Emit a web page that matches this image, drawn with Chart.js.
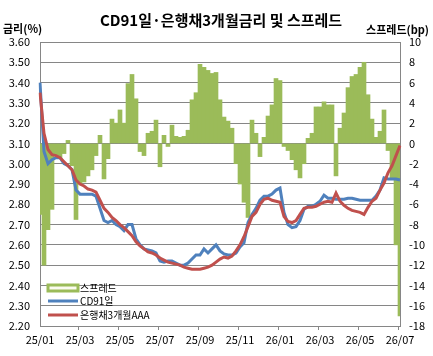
<!DOCTYPE html>
<html>
<head>
<meta charset="utf-8">
<script src="https://cdn.jsdelivr.net/npm/chart.js@4"></script>
<style>
  body { margin: 0; background: #fff; }
</style>
</head>
<body>
<canvas id="myChart" width="433" height="356"></canvas>
<script>
// x축 라벨 (2개월 간격)
const tickLabels = ['25/01', '25/03', '25/05', '25/07', '25/09', '25/11', '26/01', '26/03', '26/05', '26/07'];

// CD91일 (%)
const cd91 = [
  3.40, 3.06, 3.00, 3.02, 3.03, 3.03, 3.00, 2.99, 2.97, 2.87,
  2.85, 2.85, 2.85, 2.85, 2.84, 2.78, 2.72, 2.71, 2.72, 2.70,
  2.69, 2.67, 2.70, 2.70, 2.63, 2.60, 2.58, 2.575, 2.57, 2.56,
  2.52, 2.515, 2.52, 2.52, 2.51, 2.50, 2.50, 2.51, 2.53, 2.55,
  2.55, 2.58, 2.56, 2.58, 2.60, 2.57, 2.555, 2.55, 2.55, 2.56,
  2.59, 2.61, 2.71, 2.75, 2.78, 2.82, 2.84, 2.84, 2.85, 2.87,
  2.88, 2.76, 2.70, 2.685, 2.69, 2.72, 2.775, 2.79, 2.79, 2.80,
  2.815, 2.845, 2.83, 2.83, 2.825, 2.825, 2.825, 2.83, 2.83, 2.825,
  2.82, 2.82, 2.82, 2.82, 2.84, 2.87, 2.93, 2.925, 2.925, 2.925,
  2.92
];

// 은행채3개월AAA (%)
const bank3m = [
  3.35, 3.15, 3.07, 3.045, 3.04, 3.03, 3.01, 2.99, 2.97, 2.92,
  2.90, 2.89, 2.875, 2.87, 2.86, 2.82, 2.78, 2.76, 2.735, 2.72,
  2.70, 2.685, 2.665, 2.645, 2.615, 2.595, 2.58, 2.565, 2.56, 2.55,
  2.535, 2.525, 2.515, 2.51, 2.505, 2.50, 2.49, 2.485, 2.48, 2.48,
  2.48, 2.485, 2.49, 2.50, 2.515, 2.53, 2.54, 2.535, 2.545, 2.57,
  2.60, 2.64, 2.69, 2.74, 2.76, 2.80, 2.825, 2.83, 2.82, 2.815,
  2.81, 2.74, 2.715, 2.71, 2.72, 2.75, 2.78, 2.785, 2.785, 2.79,
  2.80, 2.81, 2.815, 2.81, 2.855, 2.815, 2.795, 2.78, 2.77, 2.765,
  2.76, 2.75, 2.785, 2.815, 2.83, 2.87, 2.905, 2.955, 2.99, 3.04,
  3.09
];

// 스프레드 (bp)
const spread = [
  -7, -12, -8.5, -6.5, -1.2, -1.5, -1.0, 0.3, -2.2, -7.5,
  -4.0, -3.8, -3.2, -2.6, -1.2, 0.8, -3.5, -1.5, 2.4, 2.0,
  3.3, 2.0, 5.9, 6.8, 4.4, -0.8, -1.2, 1.0, 1.2, 2.3,
  -2.3, 0.8, -0.3, 1.8, 0.7, 0.6, 0.7, 1.3, 4.3, 5.0,
  7.8, 7.5, 7.2, 6.9, 7.0, 4.3, 2.6, 2.2, 1.5, -2.0,
  -4.0, -5.8, -7.3, 2.3, 1.0, -1.3, 0.6, 2.7, 3.8, 6.4,
  6.2, -0.3, -0.7, -1.6, -2.6, -3.4, -2.0, 0.5, 1.0, 3.6,
  3.6, 4.1, 3.8, 3.8, -3.2, 1.5, 3.0, 5.5, 6.6, 6.8,
  7.5, 8.0, 4.8, 2.4, 0.6, 1.2, 3.3, -0.7, -3.5, -10,
  -17
];

const green = '#9BBB59';
const blue = '#4F81BD';
const red = '#C0504D';
const gridColor = '#868686';

// 라벨: 10칸마다 x축 라벨
const labels = cd91.map((v, i) => (i % 10 === 0 ? tickLabels[i / 10] : ''));

// 제목, 축 제목, 범례를 직접 그리기
const extraText = {
  id: 'extraText',
  afterDraw(chart) {
    const c = chart.ctx;
    c.save();
    c.fillStyle = '#000';
    c.textBaseline = 'middle';
    c.font = 'bold 15px "Noto Sans CJK KR"';
    c.textAlign = 'center';
    c.fillText('CD91일·은행채3개월금리 및 스프레드', 221, 20);
    c.font = 'bold 11px "Noto Sans CJK KR"';
    c.textAlign = 'left';
    c.fillText('금리(%)', 3, 29);
    c.textAlign = 'right';
    c.fillText('스프레드(bp)', 429, 30);

    // 범례
    const lx = 48;
    c.textAlign = 'left';
    c.font = '10px "Noto Sans CJK KR"';
    c.fillStyle = '#fbfbf0';
    c.fillRect(lx, 285, 30, 6);
    c.strokeStyle = green;
    c.lineWidth = 3;
    c.strokeRect(lx, 285, 30, 6);
    c.fillStyle = '#000';
    c.fillText('스프레드', 80, 288);
    c.lineWidth = 3;
    c.strokeStyle = blue;
    c.beginPath(); c.moveTo(lx, 301); c.lineTo(lx + 30, 301); c.stroke();
    c.fillText('CD91일', 80, 301);
    c.strokeStyle = red;
    c.beginPath(); c.moveTo(lx, 315); c.lineTo(lx + 30, 315); c.stroke();
    c.fillText('은행채3개월AAA', 80, 315);
    c.restore();
  }
};

const ctx = document.getElementById('myChart');
const myChart = new Chart(ctx, {
  type: 'bar',
  data: {
    labels: labels,
    datasets: [
      {
        type: 'line',
        label: '은행채3개월AAA',
        data: bank3m,
        borderColor: red,
        borderWidth: 3,
        pointRadius: 0,
        tension: 0,
        yAxisID: 'y',
        order: 0
      },
      {
        type: 'line',
        label: 'CD91일',
        data: cd91,
        borderColor: blue,
        borderWidth: 3,
        pointRadius: 0,
        tension: 0,
        yAxisID: 'y',
        order: 1
      },
      {
        type: 'bar',
        label: '스프레드',
        data: spread,
        backgroundColor: green,
        borderWidth: 0,
        barPercentage: 1,
        categoryPercentage: 1,
        yAxisID: 'y2',
        order: 2
      }
    ]
  },
  options: {
    responsive: false,
    animation: false,
    layout: { padding: { top: 42, left: 0, right: 0, bottom: 0 } },
    plugins: {
      legend: { display: false },
      title: { display: false },
      tooltip: { enabled: false }
    },
    scales: {
      x: {
        offset: false,
        afterFit: s => { s.height = 30; },
        grid: {
          drawOnChartArea: false,
          tickLength: 4,
          color: c => (c.index % 10 === 0 ? gridColor : 'rgba(0,0,0,0)')
        },
        border: { color: gridColor },
        ticks: {
          autoSkip: false,
          maxRotation: 0,
          padding: 3,
          color: '#000',
          font: { family: '"Noto Sans CJK KR"', size: 11 },
          callback: function (v, i) { return labels[i]; }
        }
      },
      y: {
        position: 'left',
        min: 2.2,
        max: 3.6,
        afterFit: s => { s.width = 40; },
        grid: { color: gridColor, drawTicks: false },
        border: { color: gridColor },
        ticks: {
          stepSize: 0.1,
          padding: 10,
          color: '#000',
          font: { family: '"Noto Sans CJK KR"', size: 11 },
          callback: v => v.toFixed(2)
        }
      },
      y2: {
        position: 'right',
        min: -18,
        max: 10,
        afterFit: s => { s.width = 33; },
        grid: { drawOnChartArea: false, drawTicks: false },
        border: { color: gridColor },
        ticks: {
          stepSize: 2,
          padding: 9,
          color: '#000',
          font: { family: '"Noto Sans CJK KR"', size: 11 }
        }
      }
    }
  },
  plugins: [extraText]
});
</script>
</body>
</html>
